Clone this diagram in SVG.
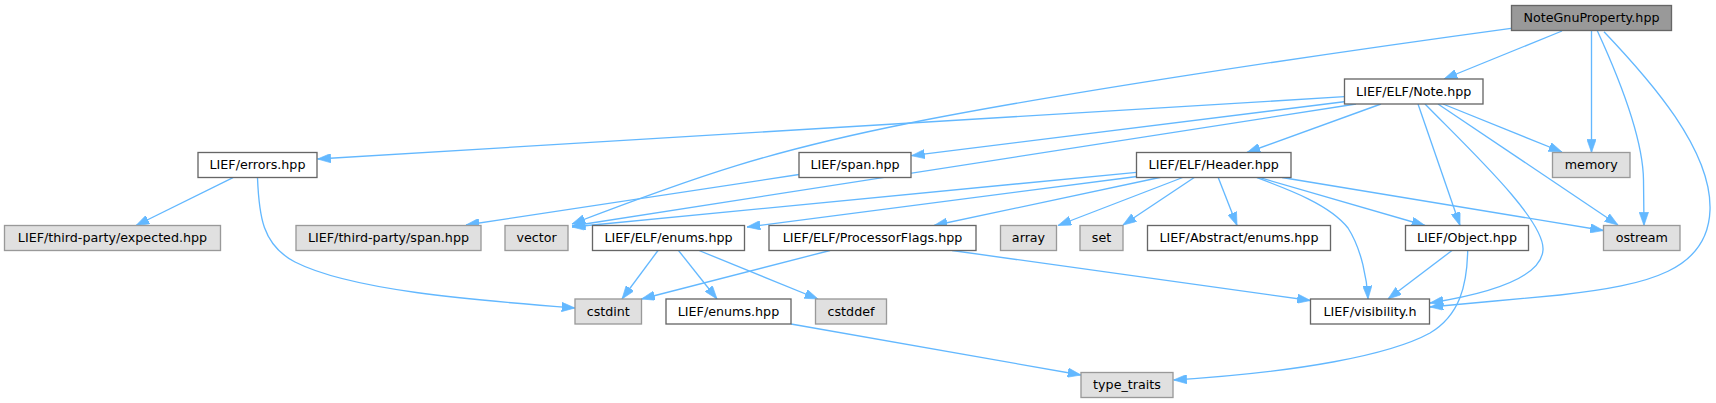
<svg xmlns="http://www.w3.org/2000/svg" width="1716" height="403" viewBox="0 0 1716 403">
<style>
text{font-family:"DejaVu Sans","Liberation Sans",sans-serif;font-size:12.7px;fill:#000;text-anchor:middle}
.n rect{fill:#fff;stroke:#666;stroke-width:1.33}
.x rect{fill:#e0e0e0;stroke:#999;stroke-width:1.33}
.m rect{fill:#999;stroke:#666;stroke-width:1.33}
#edges path{fill:none;stroke:#63b8ff;stroke-width:1.33;marker-end:url(#ah)}
</style>
<defs>
<marker id="ah" viewBox="0 0 10 7" refX="10" refY="3.5" markerWidth="13.3" markerHeight="9.33" markerUnits="userSpaceOnUse" orient="auto">
<path d="M0,0 L10,3.5 L0,7 z" fill="#63b8ff" stroke="#63b8ff" stroke-width="0.5"/>
</marker>
</defs>
<rect width="1716" height="403" fill="#fff"/>
<g id="edges">
<path d="M1562,31 L1444,79"/>
<path d="M1511,28.3 C1300,57 1050,95 910,123 S700,175 572,224"/>
<path d="M1591.5,30.5 L1591.5,152.5"/>
<path d="M1597.3,30.7 C1620,80 1643,140 1643.5,180 L1644,225.5"/>
<path d="M1604,31.7 C1650,80 1712,150 1710,210 C1708,270 1650,285 1560,295 C1520,299 1470,303 1430,307"/>
<path d="M1344.5,96.7 L317.5,159"/>
<path d="M1350,101 L911.5,155.7"/>
<path d="M1356,104 L572,226"/>
<path d="M1381,104 L1247,152.5"/>
<path d="M1443,104 L1562,152"/>
<path d="M1438,104 L1618,225"/>
<path d="M1418,104 L1460,225.5"/>
<path d="M1425,104 C1470,150 1545,220 1543,250 C1541,280 1480,295 1430,303"/>
<path d="M1136.5,172.3 L572,227"/>
<path d="M1137,176.5 L747,227"/>
<path d="M1162,177 L934,225.5"/>
<path d="M1184,177 L1058,225.5"/>
<path d="M1195,177 L1123,225"/>
<path d="M1218,177 L1237,225.5"/>
<path d="M1257,177.7 C1290,190 1330,205 1348,228 C1362,250 1367,280 1368,299"/>
<path d="M1260,177.7 L1425,225.5"/>
<path d="M1282,177.5 L1603.5,230.5"/>
<path d="M233,177.7 L136,225.5"/>
<path d="M257.5,178 C259,215 262,245 295,262 C350,290 470,300 575,308"/>
<path d="M799,174.5 L466,225"/>
<path d="M658,250.5 L622,299"/>
<path d="M678.5,250.5 L717,299"/>
<path d="M699,250.5 L818,299"/>
<path d="M830,250.5 L641.5,299"/>
<path d="M952,250.5 L1310.5,300.5"/>
<path d="M791,324 L1081,375"/>
<path d="M1452,250.5 L1388,299"/>
<path d="M1467.7,250.7 C1467,285 1460,315 1430,333 C1390,355 1300,372 1173.5,380"/>
</g>
<g id="NoteGnuProperty" class="m"><rect x="1511.5" y="5.5" width="160" height="25"/><text x="1591.5" y="22.3">NoteGnuProperty.hpp</text></g>
<g id="Note" class="n"><rect x="1344.5" y="79" width="138.5" height="25"/><text x="1413.75" y="95.8">LIEF/ELF/Note.hpp</text></g>
<g id="errors" class="n"><rect x="198" y="152.5" width="119" height="25"/><text x="257.5" y="169.3">LIEF/errors.hpp</text></g>
<g id="span" class="n"><rect x="799" y="152.5" width="112" height="25"/><text x="855" y="169.3">LIEF/span.hpp</text></g>
<g id="Header" class="n"><rect x="1136.5" y="152.5" width="154.5" height="25"/><text x="1213.75" y="169.3">LIEF/ELF/Header.hpp</text></g>
<g id="memory" class="x"><rect x="1552.5" y="152.5" width="77.5" height="25"/><text x="1591.25" y="169.3">memory</text></g>
<g id="expected" class="x"><rect x="4.5" y="225.5" width="216" height="25"/><text x="112.5" y="242.3">LIEF/third-party/expected.hpp</text></g>
<g id="tpspan" class="x"><rect x="296" y="225.5" width="185" height="25"/><text x="388.5" y="242.3">LIEF/third-party/span.hpp</text></g>
<g id="vector" class="x"><rect x="505" y="225.5" width="63" height="25"/><text x="536.5" y="242.3">vector</text></g>
<g id="elfenums" class="n"><rect x="592.5" y="225.5" width="152" height="25"/><text x="668.5" y="242.3">LIEF/ELF/enums.hpp</text></g>
<g id="procflags" class="n"><rect x="769" y="225.5" width="207" height="25"/><text x="872.5" y="242.3">LIEF/ELF/ProcessorFlags.hpp</text></g>
<g id="array" class="x"><rect x="1000.5" y="225.5" width="56" height="25"/><text x="1028.5" y="242.3">array</text></g>
<g id="set" class="x"><rect x="1080" y="225.5" width="43" height="25"/><text x="1101.5" y="242.3">set</text></g>
<g id="absenums" class="n"><rect x="1147.5" y="225.5" width="183" height="25"/><text x="1239" y="242.3">LIEF/Abstract/enums.hpp</text></g>
<g id="object" class="n"><rect x="1405.5" y="225.5" width="123" height="25"/><text x="1467" y="242.3">LIEF/Object.hpp</text></g>
<g id="ostream" class="x"><rect x="1603.5" y="225.5" width="76.5" height="25"/><text x="1641.75" y="242.3">ostream</text></g>
<g id="cstdint" class="x"><rect x="575" y="299" width="66.5" height="25"/><text x="608.25" y="315.8">cstdint</text></g>
<g id="liefenums" class="n"><rect x="666" y="299" width="125" height="25"/><text x="728.5" y="315.8">LIEF/enums.hpp</text></g>
<g id="cstddef" class="x"><rect x="815.5" y="299" width="71" height="25"/><text x="851" y="315.8">cstddef</text></g>
<g id="visibility" class="n"><rect x="1310.5" y="299" width="119" height="25"/><text x="1370" y="315.8">LIEF/visibility.h</text></g>
<g id="typetraits" class="x"><rect x="1081" y="372.5" width="92" height="25"/><text x="1127" y="389.3">type_traits</text></g>
</svg>
